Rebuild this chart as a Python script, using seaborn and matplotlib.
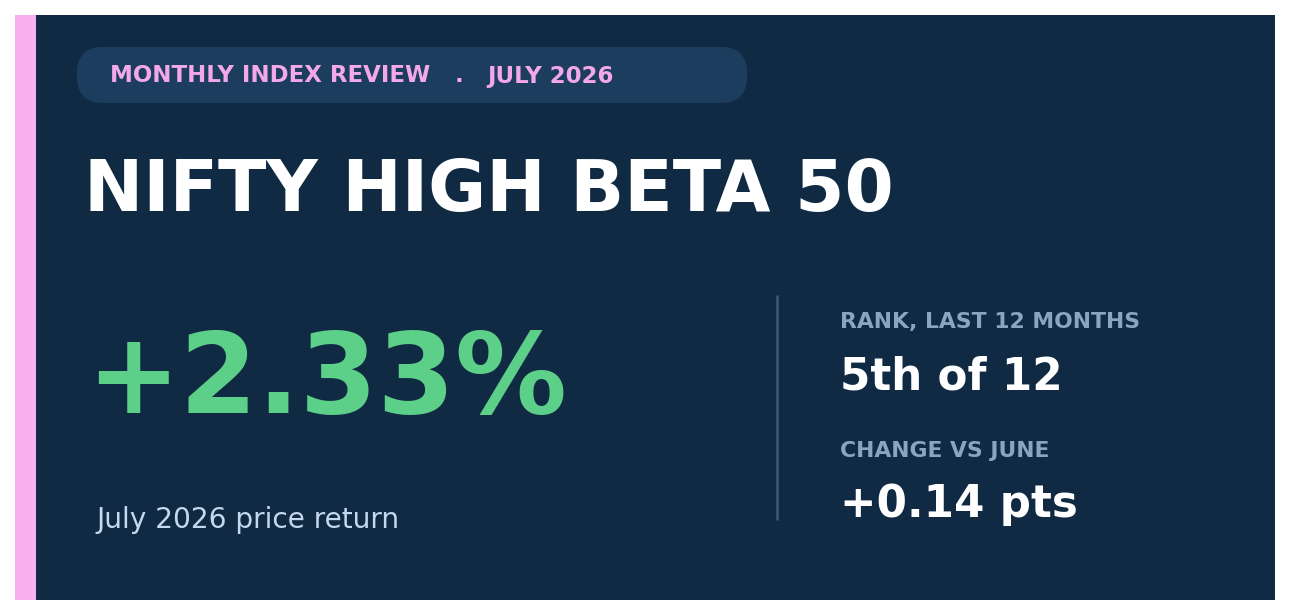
import matplotlib
matplotlib.use("Agg")
import matplotlib.pyplot as plt
import seaborn as sns
from matplotlib.patches import Rectangle, FancyBboxPatch

# ---- data ----
header_parts = ["MONTHLY INDEX REVIEW", "JULY 2026"]
index_name = "NIFTY HIGH BETA 50"
monthly_return = [2.33]
return_label = ["July 2026 price return"]
rank_label = ["RANK, LAST 12 MONTHS"]
rank_values = [5, 12]
change_label = ["CHANGE VS JUNE"]
change_values = [0.14]

sns.set_theme(style="dark")
plt.rcParams['font.family'] = ['DejaVu Sans']

W, H = 1290, 615
fig = plt.figure(figsize=(W / 100, H / 100), dpi=100)
fig.patch.set_facecolor("white")
ax = fig.add_axes([0, 0, 1, 1])
ax.set_xlim(0, W)
ax.set_ylim(H, 0)
ax.axis("off")

CARD = "#102a43"
PILL = "#1d3d5f"
PINK = "#f8b0f0"
GREEN = "#5ccf88"
LABEL = "#8aa5c2"
SUB = "#c6d8ee"

ax.add_patch(Rectangle((15, 15), 1260, 585, facecolor=CARD, edgecolor="none", zorder=1))
ax.add_patch(Rectangle((15, 15), 21, 585, facecolor=PINK, edgecolor="none", zorder=2))
ax.add_patch(FancyBboxPatch((77, 47), 670, 56,
                            boxstyle="round,pad=0,rounding_size=26",
                            mutation_aspect=1, facecolor=PILL, edgecolor="none", zorder=2))

ax.text(110, 82.5, header_parts[0], color="#f3a8ec",
        fontsize=16.5, fontweight="bold",
        va="baseline", ha="left", zorder=3)
ax.text(455, 82.5, ".", color="#f3a8ec",
        fontsize=16.5, fontweight="bold",
        va="baseline", ha="left", zorder=3)
ax.text(487, 82.5, header_parts[1], color="#f3a8ec",
        fontsize=16.5, fontweight="bold",
        va="baseline", ha="left", zorder=3)

ax.text(84, 211, index_name, color="white", fontsize=51, fontweight="bold",
        va="baseline", ha="left", zorder=3)

ax.text(86, 413, f"{monthly_return[0]:+.2f}%", color=GREEN, fontsize=80.4, fontweight="bold",
        va="baseline", ha="left", zorder=3)

ax.text(96, 528, return_label[0], color=SUB, fontsize=20.2,
        va="baseline", ha="left", zorder=3)

ax.plot([777, 777], [295, 520], color="#3a5572", lw=2, zorder=3, solid_capstyle="butt")

ax.text(840, 328, rank_label[0], color=LABEL, fontsize=15.75, fontweight="bold",
        va="baseline", ha="left", zorder=3)
ax.text(840, 389, f"{rank_values[0]}th of {rank_values[1]}", color="white", fontsize=31.4,
        fontweight="bold", va="baseline", ha="left", zorder=3)
ax.text(840, 457, change_label[0], color=LABEL, fontsize=15.75, fontweight="bold",
        va="baseline", ha="left", zorder=3)
ax.text(840, 517, f"{change_values[0]:+.2f} pts", color="white", fontsize=31.4,
        fontweight="bold", va="baseline", ha="left", zorder=3)

fig.savefig("out.png", dpi=100, facecolor=fig.get_facecolor())
